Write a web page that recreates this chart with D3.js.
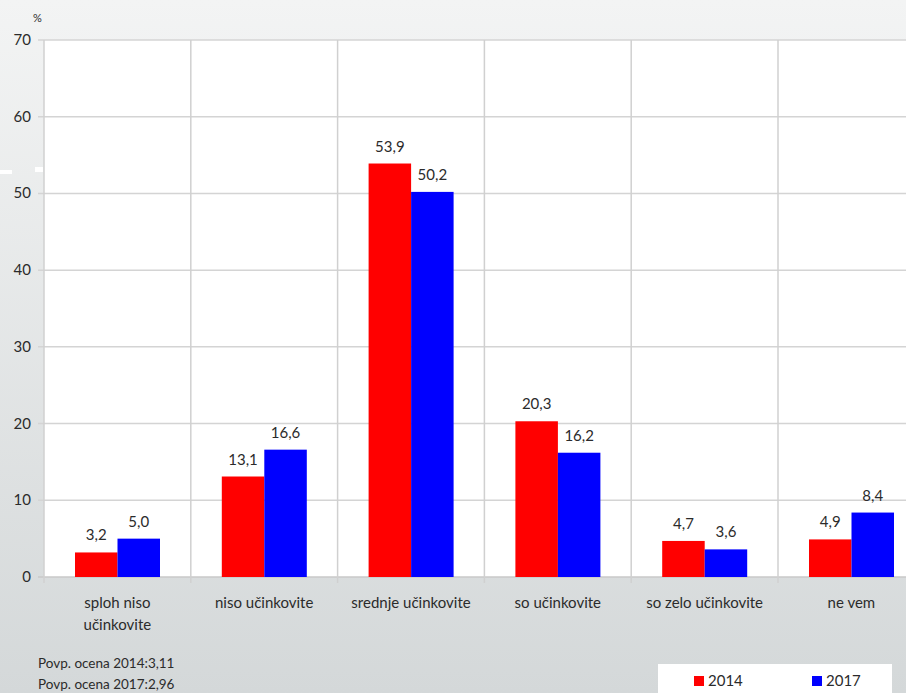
<!DOCTYPE html>
<html><head><meta charset="utf-8">
<script src="https://cdn.jsdelivr.net/npm/d3@7"></script>
<style>html,body{margin:0;padding:0;overflow:hidden;background:#fff}</style>
</head><body>
<script>
const categories = ["sploh niso|učinkovite","niso učinkovite","srednje učinkovite","so učinkovite","so zelo učinkovite","ne vem"];
const series = ["2014","2017"];
const values2014 = [3.2,13.1,53.9,20.3,4.7,4.9];
const values2017 = [5.0,16.6,50.2,16.2,3.6,8.4];
const yTicks = [0,10,20,30,40,50,60,70];
const notes = ["Povp. ocena 2014:3,11","Povp. ocena 2017:2,96"];
const colors = ["#ff0000","#0000ff"];

(function(){
const W=906,H=693;
const svg=d3.select("body").append("svg").attr("width",W).attr("height",H);
const defs=svg.append("defs");
const g=defs.append("linearGradient").attr("id","bg").attr("x1",0).attr("y1",0).attr("x2",0).attr("y2",1);
g.append("stop").attr("offset","0%").attr("stop-color","#f3f4f4");
g.append("stop").attr("offset","100%").attr("stop-color","#d4d8d9");
svg.append("rect").attr("width",W).attr("height",H).attr("fill","url(#bg)");

const font="Lato, 'Open Sans', sans-serif";
const txt="#2b2b2b";
const pLeft=44, pTop=40, pBottom=577, catW=146.8;
const x=d3.scaleBand().domain(categories).range([pLeft,pLeft+catW*categories.length]).paddingInner(0).paddingOuter(0);
const y=d3.scaleLinear().domain([0,70]).range([pBottom,pTop]);
const xs=d3.scaleBand().domain(series).range([31,31+85]);

svg.append("rect").attr("x",pLeft).attr("y",pTop).attr("width",W-pLeft).attr("height",pBottom-pTop).attr("fill","#fff");

svg.append("rect").attr("x",0).attr("y",170).attr("width",12).attr("height",4).attr("fill","#fff");
svg.append("rect").attr("x",35).attr("y",167).attr("width",8).attr("height",5).attr("fill","#fff");

svg.append("g").selectAll("line").data(yTicks).join("line")
  .attr("x1",38).attr("x2",W).attr("y1",d=>y(d)).attr("y2",d=>y(d))
  .attr("stroke",d=>d===0?"#c8c8c8":"#d4d4d4").attr("stroke-width",1.5);
svg.append("g").selectAll("line").data(categories).join("line")
  .attr("x1",d=>x(d)).attr("x2",d=>x(d)).attr("y1",pTop).attr("y2",pBottom+6)
  .attr("stroke","#d0d0d0").attr("stroke-width",1.5);

svg.append("g").selectAll("text").data(yTicks).join("text")
  .attr("x",31).attr("y",d=>y(d)+5).attr("text-anchor","end")
  .attr("font-family",font).attr("font-size",15).attr("fill",txt).text(d=>d);
svg.append("text").attr("x",33).attr("y",22).attr("font-family",font).attr("font-size",11).attr("fill",txt).text("%");

const data=[];
categories.forEach((c,i)=>{data.push({c,s:"2014",v:values2014[i],col:colors[0]});data.push({c,s:"2017",v:values2017[i],col:colors[1]});});
svg.append("g").selectAll("rect").data(data).join("rect")
  .attr("x",d=>x(d.c)+xs(d.s)).attr("width",xs.bandwidth())
  .attr("y",d=>y(d.v)).attr("height",d=>pBottom-y(d.v)).attr("fill",d=>d.col);
svg.append("g").selectAll("text").data(data).join("text")
  .attr("x",d=>x(d.c)+xs(d.s)+xs.bandwidth()/2).attr("y",d=>y(d.v)-12)
  .attr("text-anchor","middle").attr("font-family",font).attr("font-size",15).attr("fill",txt)
  .text(d=>d.v.toFixed(1).replace(".",","));

categories.forEach(c=>{
  const lines=c.split("|");
  const t=svg.append("text").attr("x",x(c)+x.bandwidth()/2).attr("y",608).attr("text-anchor","middle")
    .attr("font-family",font).attr("font-size",15).attr("fill",txt);
  lines.forEach((l,i)=>t.append("tspan").attr("x",x(c)+x.bandwidth()/2).attr("dy",i?22:0).text(l));
});

notes.forEach((n,i)=>svg.append("text").attr("x",38).attr("y",668+i*21).attr("font-family",font).attr("font-size",13.5).attr("fill",txt).text(n));

svg.append("rect").attr("x",658).attr("y",664).attr("width",234).attr("height",40).attr("fill","#fff");
const lx=[694,812];
series.forEach((s,i)=>{
  svg.append("rect").attr("x",lx[i]).attr("y",676).attr("width",10).attr("height",10).attr("fill",colors[i]);
  svg.append("text").attr("x",lx[i]+14).attr("y",686).attr("font-family",font).attr("font-size",15).attr("fill",txt).text(s);
});
})();
</script>
</body></html>
